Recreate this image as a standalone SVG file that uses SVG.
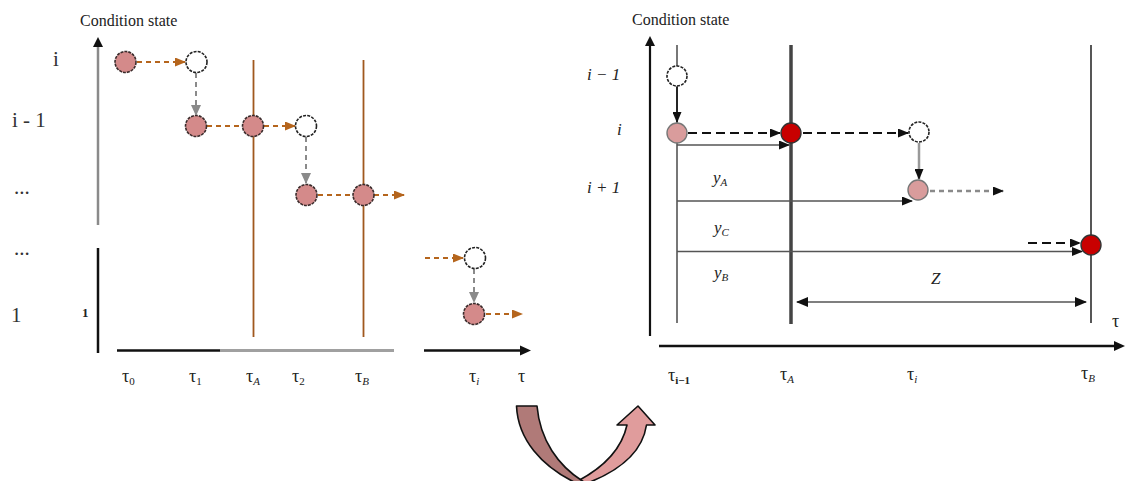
<svg xmlns="http://www.w3.org/2000/svg" width="1125" height="481" viewBox="0 0 1125 481">
<style>
text{font-family:"Liberation Serif","Times New Roman",serif;fill:#222}
.title{font-size:16px}
.lab{font-size:21px;fill:#333}
.it{font-style:italic;font-size:17px}
.tau{font-size:18px}
.sub{font-size:11px}
.pink{fill:#d48a8a;stroke:#3a2b2b;stroke-width:1.6;stroke-dasharray:3 1}
.pinkL{fill:#d99c9c;stroke:#777;stroke-width:1.4}
.white{fill:#fff;stroke:#222;stroke-width:1.6;stroke-dasharray:3 1.2}
.red{fill:#c80000;stroke:#333;stroke-width:1.4}
.odash{stroke:#b5651d;stroke-width:2;stroke-dasharray:5 4;fill:none}
.gdash{stroke:#8a8a8a;stroke-width:2;stroke-dasharray:5 4;fill:none}
.brown{stroke:#a0581e;stroke-width:1.8}
.thin{stroke:#555;stroke-width:1.6;fill:none}
.kdash{stroke:#111;stroke-width:2;stroke-dasharray:9 5;fill:none}
</style>
<defs>
<marker id="arrO" markerUnits="userSpaceOnUse" markerWidth="11" markerHeight="9" refX="10" refY="4.5" orient="auto"><path d="M0,0 L11,4.5 L0,9 z" fill="#b5651d"/></marker>
<marker id="arrG" markerUnits="userSpaceOnUse" markerWidth="11" markerHeight="10" refX="10" refY="5" orient="auto"><path d="M0,0 L11,5 L0,10 z" fill="#8a8a8a"/></marker>
<marker id="arrK" markerUnits="userSpaceOnUse" markerWidth="11" markerHeight="9" refX="10" refY="4.5" orient="auto"><path d="M0,0 L11,4.5 L0,9 z" fill="#111"/></marker>
<marker id="arrKs" markerUnits="userSpaceOnUse" markerWidth="12" markerHeight="10" refX="11" refY="5" orient="auto-start-reverse"><path d="M0,0 L12,5 L0,10 z" fill="#111"/></marker>
</defs>

<!-- Left panel axes -->
<g id="left-axes">
<text class="title" x="80" y="26">Condition state</text>
<line x1="98" y1="225" x2="98" y2="46" stroke="#8a8a8a" stroke-width="2.5"/>
<path d="M93,47 L98,37 L103,47 z" fill="#111"/>
<line x1="98" y1="248" x2="98" y2="353" stroke="#111" stroke-width="2.5"/>
<line x1="117" y1="350.5" x2="221" y2="350.5" stroke="#111" stroke-width="2.5"/>
<line x1="220" y1="350.5" x2="394" y2="350.5" stroke="#a0a0a0" stroke-width="3"/>
<line x1="424" y1="350.5" x2="522" y2="350.5" stroke="#111" stroke-width="2.5"/>
<path d="M520,345.5 L531,350.5 L520,355.5 z" fill="#111"/>
<text class="lab" x="53" y="66">i</text>
<text class="lab" x="12" y="127">i - 1</text>
<text class="lab" x="14" y="194">...</text>
<text class="lab" x="14" y="255">...</text>
<text class="lab" x="11" y="322">1</text>
<text x="82" y="317" style="font-size:13px;font-weight:bold">1</text>
<text class="tau" x="122" y="382">τ<tspan class="sub" dy="3">0</tspan></text>
<text class="tau" x="189" y="382">τ<tspan class="sub" dy="3">1</tspan></text>
<text class="tau" x="246" y="382">τ<tspan class="sub" dy="3" font-style="italic">A</tspan></text>
<text class="tau" x="292" y="382">τ<tspan class="sub" dy="3">2</tspan></text>
<text class="tau" x="355" y="382">τ<tspan class="sub" dy="3" font-style="italic">B</tspan></text>
<text class="tau" x="469" y="382">τ<tspan class="sub" dy="3" font-style="italic">i</tspan></text>
<text class="tau" x="518" y="382">τ</text>
</g>

<g id="left-guides">
<line class="brown" x1="253.5" y1="60" x2="253.5" y2="337"/>
<line class="brown" x1="363.5" y1="60" x2="363.5" y2="337"/>
</g>

<g id="left-connectors">
<line class="odash" x1="137" y1="62" x2="185" y2="62" marker-end="url(#arrO)"/>
<line class="gdash" x1="196" y1="73" x2="196" y2="115" marker-end="url(#arrG)"/>
<line class="odash" x1="207" y1="126" x2="242" y2="126"/>
<line class="odash" x1="264" y1="126" x2="295" y2="126" marker-end="url(#arrO)"/>
<line class="gdash" x1="306" y1="137" x2="306" y2="183" marker-end="url(#arrG)"/>
<line class="odash" x1="318" y1="195" x2="352" y2="195"/>
<line class="odash" x1="374" y1="195" x2="404" y2="195" marker-end="url(#arrO)"/>
<line class="odash" x1="425" y1="258" x2="463" y2="258" marker-end="url(#arrO)"/>
<line class="gdash" x1="474" y1="269" x2="474" y2="302" marker-end="url(#arrG)"/>
<line class="odash" x1="486" y1="314" x2="522" y2="314" marker-end="url(#arrO)"/>
</g>

<g id="left-nodes">
<circle id="L1" class="pink" cx="125.5" cy="62" r="10.5"/>
<circle id="L2" class="white" cx="196.5" cy="62" r="10.5"/>
<circle id="L3" class="pink" cx="196" cy="126" r="10.5"/>
<circle id="L4" class="pink" cx="253" cy="126" r="10.5"/>
<circle id="L5" class="white" cx="306" cy="126" r="10.5"/>
<circle id="L6" class="pink" cx="306.5" cy="195" r="10.5"/>
<circle id="L7" class="pink" cx="363.5" cy="195" r="10.5"/>
<circle id="L8" class="white" cx="475" cy="258" r="10.5"/>
<circle id="L9" class="pink" cx="474" cy="314" r="10.5"/>
</g>

<!-- Right panel -->
<g id="right-axes">
<text class="title" x="632" y="25">Condition state</text>
<line x1="650" y1="336" x2="650" y2="45" stroke="#111" stroke-width="2.2"/>
<path d="M645,46 L650,36 L655,46 z" fill="#111"/>
<line x1="659" y1="346" x2="1116" y2="346" stroke="#111" stroke-width="2.5"/>
<path d="M1114,341 L1125,346 L1114,351 z" fill="#111"/>
<text class="it" x="587" y="80">i − 1</text>
<text class="it" x="617" y="135">i</text>
<text class="it" x="587" y="193">i + 1</text>
<text class="tau" x="1112" y="327">τ</text>
<text class="tau" x="668" y="381">τ<tspan class="sub" dy="3" font-weight="bold">i−1</tspan></text>
<text class="tau" x="780" y="380">τ<tspan class="sub" dy="3" font-style="italic">A</tspan></text>
<text class="tau" x="907" y="380">τ<tspan class="sub" dy="3" font-style="italic">i</tspan></text>
<text class="tau" x="1081" y="379">τ<tspan class="sub" dy="3" font-style="italic">B</tspan></text>
</g>

<g id="right-guides">
<line x1="677" y1="45" x2="677" y2="323" stroke="#555" stroke-width="1.6"/>
<line x1="791" y1="45" x2="791" y2="324" stroke="#444" stroke-width="3.5"/>
<line x1="1091" y1="45" x2="1091" y2="323" stroke="#444" stroke-width="1.8"/>
</g>

<g id="right-connectors">
<line x1="677" y1="87" x2="677" y2="122" stroke="#111" stroke-width="1.6" marker-end="url(#arrK)"/>
<line class="kdash" x1="688" y1="133" x2="780" y2="133" marker-end="url(#arrK)"/>
<line class="kdash" x1="803" y1="133" x2="908" y2="133" marker-end="url(#arrK)"/>
<line x1="919" y1="143" x2="919" y2="179" stroke="#999" stroke-width="2.5" marker-end="url(#arrK)"/>
<line x1="930" y1="191" x2="1003" y2="191" stroke="#8a8a8a" stroke-width="2.5" stroke-dasharray="5 4" marker-end="url(#arrK)"/>
<line class="thin" x1="677" y1="145" x2="789" y2="145" marker-end="url(#arrK)"/>
<line class="thin" x1="677" y1="201" x2="912" y2="201" marker-end="url(#arrK)"/>
<line class="thin" x1="677" y1="251.5" x2="1082" y2="251.5" marker-end="url(#arrK)"/>
<line class="kdash" x1="1028" y1="243" x2="1080" y2="243" stroke-dasharray="6 4" marker-end="url(#arrK)"/>
<line class="thin" x1="797" y1="302" x2="1086" y2="302" marker-start="url(#arrKs)" marker-end="url(#arrKs)"/>
<text class="it" x="713" y="183">y<tspan class="sub" dy="3">A</tspan></text>
<text class="it" x="714" y="233">y<tspan class="sub" dy="3">C</tspan></text>
<text class="it" x="714" y="278">y<tspan class="sub" dy="3">B</tspan></text>
<text class="it" x="931" y="284">Z</text>
</g>

<g id="right-nodes">
<circle id="R1" class="white" cx="677" cy="76" r="10"/>
<circle id="R2" class="pinkL" cx="677" cy="133" r="10"/>
<circle id="R3" class="red" cx="791" cy="133" r="10"/>
<circle id="R4" class="white" cx="919" cy="132" r="10"/>
<circle id="R5" class="pinkL" cx="918" cy="190" r="10"/>
<circle id="R6" class="red" cx="1091" cy="245" r="10"/>
</g>

<g id="uturn-arrow" stroke="#111" stroke-width="1.6" stroke-linejoin="round">
<path d="M627,425 L617,425 L638,406 L655,425 L646.5,425 C643,448 625,468 590,482 L576,482 C605,467 622,448 627,425 Z" fill="#e09c9c"/>
<path d="M516.5,406 L537,406 C540,440 558,466 584,482 L574,482 C542,466 518,440 516.5,406 Z" fill="#b07a78"/>
</g>
</svg>
